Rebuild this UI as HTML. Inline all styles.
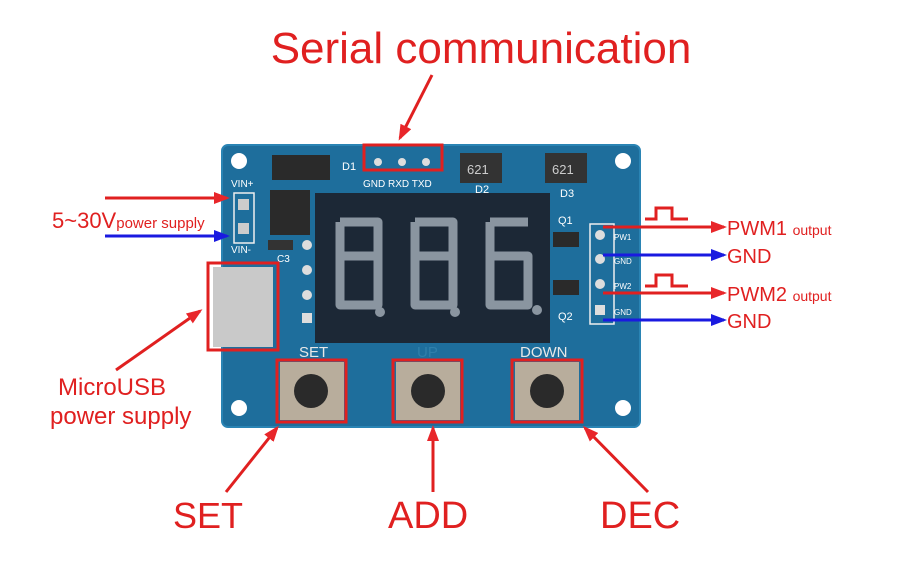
<!DOCTYPE html>
<html><head><meta charset="utf-8"><style>
html,body{margin:0;padding:0;background:#fff;width:900px;height:565px;overflow:hidden}
svg text{font-family:"Liberation Sans",sans-serif}
</style></head><body>
<svg width="900" height="565" viewBox="0 0 900 565" xmlns="http://www.w3.org/2000/svg">
<defs>
<marker id="ar" markerWidth="16" markerHeight="12" refX="13" refY="6" orient="auto" markerUnits="userSpaceOnUse"><path d="M0,0 L16,6 L0,12 z" fill="#e8262a"/></marker>
<marker id="ab" markerWidth="16" markerHeight="12" refX="13" refY="6" orient="auto" markerUnits="userSpaceOnUse"><path d="M0,0 L16,6 L0,12 z" fill="#1a1ae0"/></marker>
</defs>
<rect x="222" y="145" width="418" height="282" rx="6" fill="#1e6e9c"/>
<rect x="222" y="145" width="418" height="282" rx="6" fill="none" stroke="#2a84b4" stroke-width="2"/>
<circle cx="239" cy="161" r="8" fill="#fff"/><circle cx="623" cy="161" r="8" fill="#fff"/>
<circle cx="239" cy="408" r="8" fill="#fff"/><circle cx="623" cy="408" r="8" fill="#fff"/>
<rect x="272" y="155" width="58" height="25" fill="#2a2a2a"/>
<rect x="460" y="153" width="42" height="30" fill="#333"/><text x="467" y="174" fill="#ccc" font-size="13">621</text>
<rect x="545" y="153" width="42" height="30" fill="#333"/><text x="552" y="174" fill="#ccc" font-size="13">621</text>
<text x="342" y="170" fill="#fff" font-size="11">D1</text>
<text x="475" y="193" fill="#fff" font-size="11">D2</text>
<text x="560" y="197" fill="#fff" font-size="11">D3</text>
<rect x="270" y="190" width="40" height="45" fill="#2a2a2a"/>
<rect x="364" y="145" width="78" height="25" fill="none" stroke="#e02020" stroke-width="3"/>
<circle cx="378" cy="162" r="4" fill="#ddd"/><circle cx="402" cy="162" r="4" fill="#ddd"/><circle cx="426" cy="162" r="4" fill="#ddd"/>
<text x="363" y="187" fill="#fff" font-size="10">GND RXD TXD</text>
<text x="231" y="187" fill="#fff" font-size="10">VIN+</text>
<rect x="234" y="193" width="20" height="50" fill="none" stroke="#eee" stroke-width="1.5"/>
<rect x="238" y="199" width="11" height="11" fill="#ccc"/><rect x="238" y="223" width="11" height="11" fill="#ccc"/>
<text x="231" y="253" fill="#fff" font-size="10">VIN-</text>
<rect x="268" y="240" width="25" height="10" fill="#333"/><text x="277" y="262" fill="#fff" font-size="10">C3</text>
<rect x="213" y="267" width="60" height="80" fill="#c9c9c9"/>
<rect x="208" y="263" width="70" height="87" fill="none" stroke="#e02020" stroke-width="3"/>
<circle cx="307" cy="245" r="5" fill="#ddd"/><circle cx="307" cy="270" r="5" fill="#ddd"/><circle cx="307" cy="295" r="5" fill="#ddd"/><rect x="302" y="313" width="10" height="10" fill="#ddd"/>
<rect x="315" y="193" width="235" height="150" fill="#1c2836"/>
<g fill="none" stroke="#8a95a0" stroke-width="9" stroke-linejoin="round">
<path d="M340,222 H378 V256 M340,222 V256 H378 V305 H340 V256 M340,305 V256"/>
<path d="M415,222 H453 V256 M415,222 V256 M415,256 H453 V305 H415 V256"/>
<path d="M490,222 H528 M490,222 V305 H528 V256 H490"/>
</g>
<circle cx="380" cy="312" r="5" fill="#8a95a0"/><circle cx="455" cy="312" r="5" fill="#8a95a0"/><circle cx="537" cy="310" r="5" fill="#8a95a0"/>
<text x="558" y="224" fill="#fff" font-size="11">Q1</text>
<rect x="553" y="232" width="26" height="15" fill="#2a2a2a"/>
<rect x="553" y="280" width="26" height="15" fill="#2a2a2a"/>
<text x="558" y="320" fill="#fff" font-size="11">Q2</text>
<rect x="590" y="224" width="24" height="100" fill="none" stroke="#eee" stroke-width="1.5"/>
<circle cx="600" cy="235" r="5" fill="#ddd"/><circle cx="600" cy="259" r="5" fill="#ddd"/><circle cx="600" cy="284" r="5" fill="#ddd"/><rect x="595" y="305" width="10" height="10" fill="#ddd"/>
<text x="614" y="240" fill="#fff" font-size="8">PW1</text><text x="614" y="264" fill="#fff" font-size="8">GND</text>
<text x="614" y="289" fill="#fff" font-size="8">PW2</text><text x="614" y="315" fill="#fff" font-size="8">GND</text>
<text x="299" y="357" fill="#e8e8e8" font-size="15">SET</text>
<text x="417" y="357" fill="#2f7faa" font-size="15">UP</text>
<text x="520" y="357" fill="#e8e8e8" font-size="15">DOWN</text>
<rect x="280" y="362" width="64" height="58" fill="#b8ad9c"/><circle cx="311" cy="391" r="17" fill="#2a2a2a"/>
<rect x="277" y="360" width="69" height="62" fill="none" stroke="#e02020" stroke-width="3"/>
<rect x="396" y="362" width="64" height="58" fill="#b8ad9c"/><circle cx="428" cy="391" r="17" fill="#2a2a2a"/>
<rect x="393" y="360" width="69" height="62" fill="none" stroke="#e02020" stroke-width="3"/>
<rect x="515" y="362" width="64" height="58" fill="#b8ad9c"/><circle cx="547" cy="391" r="17" fill="#2a2a2a"/>
<rect x="512" y="360" width="70" height="62" fill="none" stroke="#e02020" stroke-width="3"/>
<text x="481" y="63" text-anchor="middle" fill="#e02020" font-size="44">Serial communication</text>
<line x1="432" y1="75" x2="400" y2="138" stroke="#e02020" stroke-width="3" marker-end="url(#ar)"/>
<line x1="105" y1="198" x2="227" y2="198" stroke="#e02020" stroke-width="3" marker-end="url(#ar)"/>
<line x1="105" y1="236" x2="227" y2="236" stroke="#1a1ae0" stroke-width="3" marker-end="url(#ab)"/>
<text x="52" y="228" fill="#e02020" font-size="22">5~30V<tspan font-size="15">power supply</tspan></text>
<text x="58" y="395" fill="#e02020" font-size="24">MicroUSB</text>
<text x="50" y="424" fill="#e02020" font-size="24">power supply</text>
<line x1="116" y1="370" x2="200" y2="311" stroke="#e02020" stroke-width="3" marker-end="url(#ar)"/>
<text x="173" y="528" fill="#e02020" font-size="36">SET</text>
<text x="388" y="528" fill="#e02020" font-size="38">ADD</text>
<text x="600" y="528" fill="#e02020" font-size="38">DEC</text>
<line x1="226" y1="492" x2="277" y2="428" stroke="#e02020" stroke-width="3" marker-end="url(#ar)"/>
<line x1="433" y1="492" x2="433" y2="428" stroke="#e02020" stroke-width="3" marker-end="url(#ar)"/>
<line x1="648" y1="492" x2="585" y2="428" stroke="#e02020" stroke-width="3" marker-end="url(#ar)"/>
<line x1="603" y1="227" x2="724" y2="227" stroke="#e02020" stroke-width="3" marker-end="url(#ar)"/>
<line x1="603" y1="255" x2="724" y2="255" stroke="#1a1ae0" stroke-width="3" marker-end="url(#ab)"/>
<line x1="603" y1="293" x2="724" y2="293" stroke="#e02020" stroke-width="3" marker-end="url(#ar)"/>
<line x1="603" y1="320" x2="724" y2="320" stroke="#1a1ae0" stroke-width="3" marker-end="url(#ab)"/>
<path d="M645,219 H656 V208 H672 V219 H688" fill="none" stroke="#e02020" stroke-width="3"/>
<path d="M645,286 H656 V275 H672 V286 H688" fill="none" stroke="#e02020" stroke-width="3"/>
<text x="727" y="235" fill="#e02020" font-size="20">PWM1 <tspan font-size="14">output</tspan></text>
<text x="727" y="263" fill="#e02020" font-size="20">GND</text>
<text x="727" y="301" fill="#e02020" font-size="20">PWM2 <tspan font-size="14">output</tspan></text>
<text x="727" y="328" fill="#e02020" font-size="20">GND</text>
</svg>
</body></html>
